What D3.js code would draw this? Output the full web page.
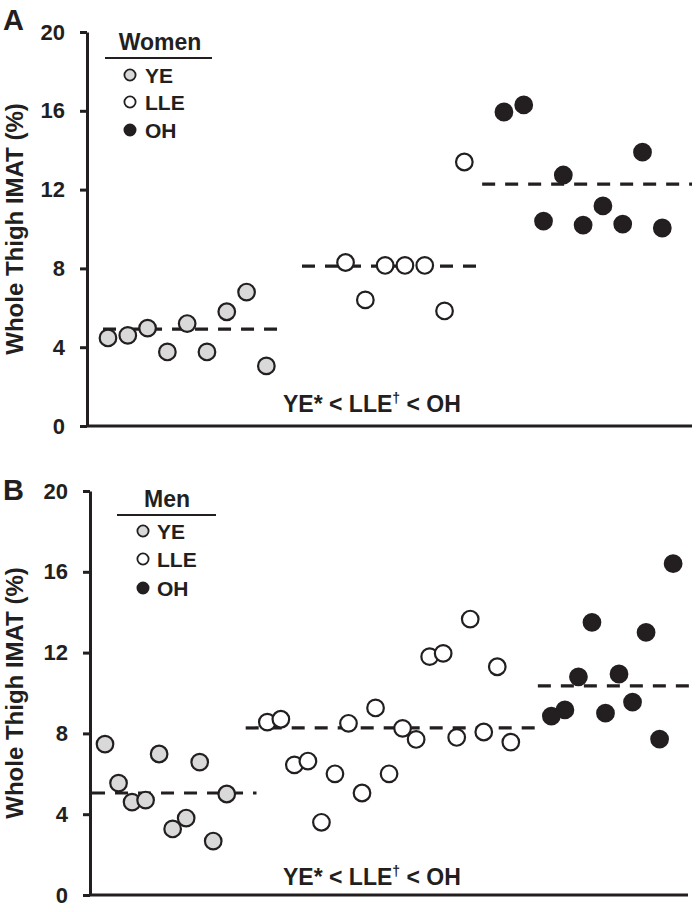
<!doctype html>
<head>
    <meta charset="utf-8">
    <title>Whole Thigh IMAT</title>
    <script src="https://d3js.org/d3.v7.min.js"></script>
    <style>
        body {margin:0; background:#fff;}
        svg {width:699px; height:912px; display:block;}
        text {font-family:"Liberation Sans", Arial, sans-serif; font-weight:bold; fill:#231f20;}
        .axis path, .axis line {stroke:#231f20; stroke-width:3;}
        .axis text {font-size:22px; font-family:"Liberation Sans", Arial, sans-serif; font-weight:bold; fill:#231f20;}
        .mean {stroke:#231f20; stroke-width:3.2; stroke-dasharray:13,10;}
        .dot {stroke:#231f20; stroke-width:2.2;}
    </style>
</head>
<body>
    <script>
        "use strict";
        var yTicks = [0, 4, 8, 12, 16, 20];
        var groups = ["YE", "LLE", "OH"];
        var fills = {YE: "#d9d9d9", LLE: "#ffffff", OH: "#231f20"};

        // Panel A - women
        var womenYE = [4.47, 4.6, 4.97, 3.76, 5.2, 3.76, 5.8, 6.8, 3.05];
        var womenLLE = [8.3, 6.4, 8.15, 8.15, 8.15, 5.84, 13.4];
        var womenOH = [15.94, 16.3, 10.4, 12.74, 10.2, 11.17, 10.25, 13.9, 10.05];
        var womenMeans = [4.92, 8.12, 12.28];

        // Panel B - men
        var menYE = [7.47, 5.54, 4.6, 4.7, 6.98, 3.27, 3.81, 6.58, 2.67, 5.0];
        var menLLE = [8.56, 8.7, 6.44, 6.63, 3.6, 6.0, 8.5, 5.05, 9.26, 6.0, 8.25, 7.7, 11.8, 11.96, 7.8, 13.66, 8.07, 11.3, 7.57];
        var menOH = [8.86, 9.16, 10.8, 13.5, 9.0, 10.94, 9.55, 13.0, 7.72, 16.4];
        var menMeans = [5.05, 8.27, 10.35];

        var svg = d3.select("body").append("svg");

        var panels = [
            {
                letter: "A", title: "Women", values: [womenYE, womenLLE, womenOH], means: womenMeans,
                starts: [0, 12, 20], spans: [[-0.25, 8.6], [9.8, 19.0], [18.9, 29.5]],
                slots: [-1.06, 29.5], left: 87, right: 692, top: 32, bottom: 426,
                letterY: 30, noteY: 412,
                legend: {lineX: [105, 212], titleX: 160, titleY: 50, lineY: 58, dotX: 130, textX: 145, rowY: [75, 102, 130]}
            },
            {
                letter: "B", title: "Men", values: [menYE, menLLE, menOH], means: menMeans,
                starts: [0, 12, 33], spans: [[-0.96, 11.2], [10.4, 32.2], [32.0, 43.4]],
                slots: [-1.11, 43.1], left: 90, right: 688, top: 491, bottom: 895,
                letterY: 500, noteY: 885,
                legend: {lineX: [117, 216], titleX: 167, titleY: 507, lineY: 515, dotX: 143, textX: 157, rowY: [531, 559, 588]}
            }
        ];

        panels.forEach(function(p) {
            var x = d3.scaleLinear().domain(p.slots).range([p.left, p.right]);
            var y = d3.scaleLinear().domain([0, 20]).range([p.bottom, p.top]);
            var g = svg.append("g");

            g.append("g")
                .attr("class", "axis")
                .attr("transform", "translate(" + p.left + ",0)")
                .call(d3.axisLeft(y).tickValues(yTicks).tickSize(7).tickPadding(15).tickSizeOuter(0));

            g.append("line")
                .attr("x1", p.left).attr("x2", p.right)
                .attr("y1", y(0)).attr("y2", y(0))
                .style("stroke", "#231f20").style("stroke-width", 3);

            g.append("text")
                .attr("x", 3).attr("y", p.letterY)
                .style("font-size", "29px")
                .text(p.letter);

            g.append("text")
                .attr("transform", "translate(23," + (p.top + p.bottom) / 2 + ") rotate(-90)")
                .style("text-anchor", "middle")
                .style("font-size", "24px")
                .text("Whole Thigh IMAT (%)");

            // mean lines
            g.selectAll(".mean")
                .data(p.means)
                .enter().append("line")
                .attr("class", "mean")
                .attr("x1", function(d, i) { return x(p.spans[i][0]); })
                .attr("x2", function(d, i) { return x(p.spans[i][1]); })
                .attr("y1", function(d) { return y(d); })
                .attr("y2", function(d) { return y(d); });

            // dots
            var points = [];
            p.values.forEach(function(vals, gi) {
                vals.forEach(function(v, i) {
                    points.push({group: groups[gi], slot: p.starts[gi] + i, value: v});
                });
            });

            g.selectAll(".dot")
                .data(points)
                .enter().append("circle")
                .attr("class", "dot")
                .attr("r", 8.3)
                .attr("cx", function(d) { return x(d.slot); })
                .attr("cy", function(d) { return y(d.value); })
                .style("fill", function(d) { return fills[d.group]; });

            // significance note
            var note = g.append("text")
                .attr("x", 283).attr("y", p.noteY)
                .style("font-size", "23px");
            note.append("tspan").text("YE* < LLE");
            note.append("tspan").attr("dy", -9).style("font-size", "14px").text("\u2020");
            note.append("tspan").attr("dy", 9).text(" < OH");

            // legend
            var L = p.legend;
            g.append("text")
                .attr("x", L.titleX).attr("y", L.titleY)
                .style("text-anchor", "middle")
                .style("font-size", "23px")
                .text(p.title);
            g.append("line")
                .attr("x1", L.lineX[0]).attr("x2", L.lineX[1])
                .attr("y1", L.lineY).attr("y2", L.lineY)
                .style("stroke", "#231f20").style("stroke-width", 2);

            var rows = g.selectAll(".legrow")
                .data(groups)
                .enter().append("g")
                .attr("class", "legrow")
                .attr("transform", function(d, i) { return "translate(" + L.dotX + "," + L.rowY[i] + ")"; });
            rows.append("circle")
                .attr("r", 5.6)
                .style("fill", function(d) { return fills[d]; })
                .style("stroke", "#231f20").style("stroke-width", 1.8);
            rows.append("text")
                .attr("x", L.textX - L.dotX).attr("y", 7.5)
                .style("font-size", "21px")
                .text(function(d) { return d; });
        });
    </script>
</body>
</html>
